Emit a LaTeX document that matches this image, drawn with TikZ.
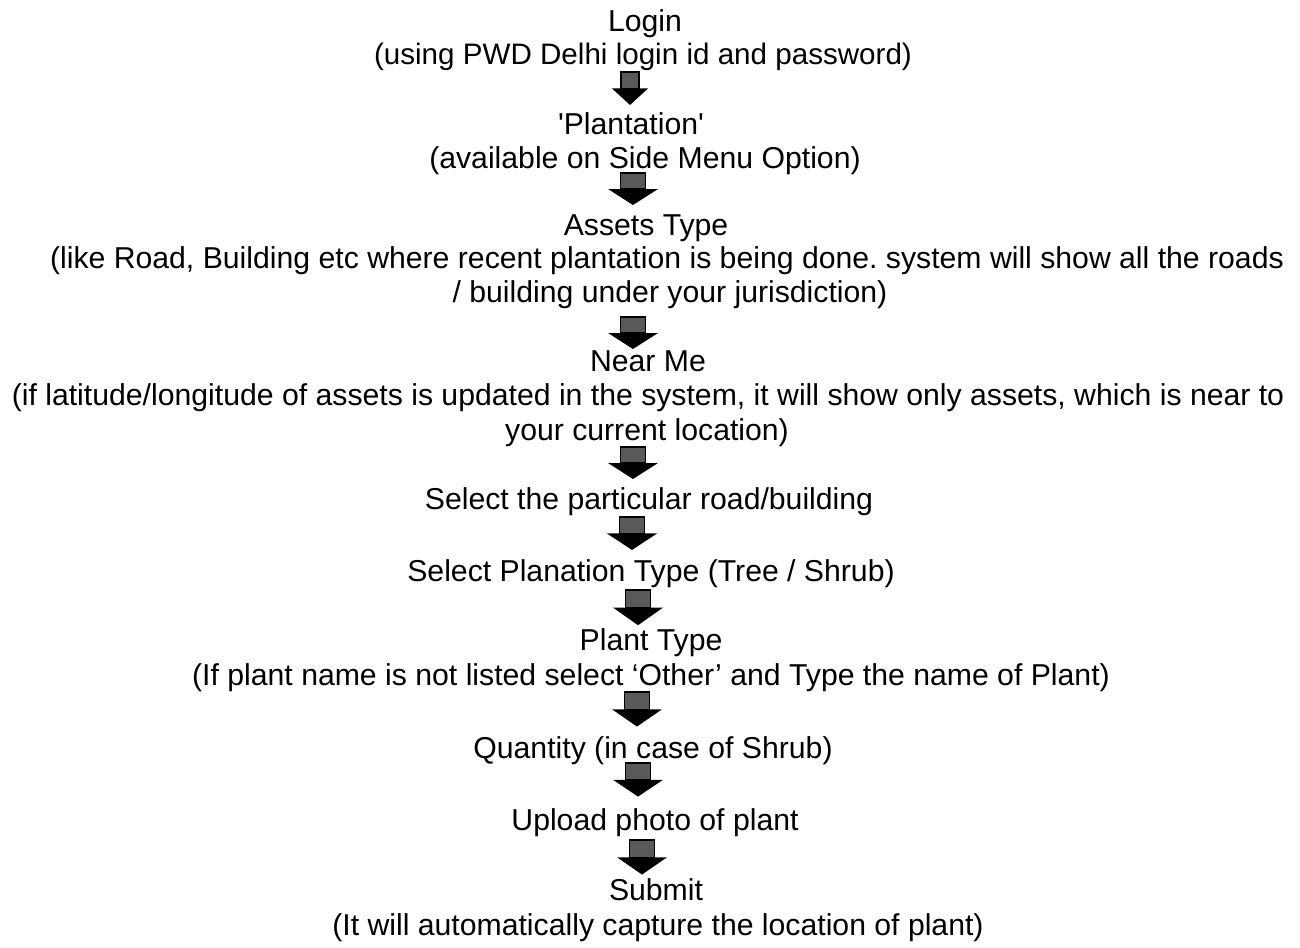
\documentclass[tikz,border=0pt]{standalone}
\usepackage{fontspec}
\setmainfont{Liberation Sans}
\begin{document}
\frenchspacing
\begin{tikzpicture}[x=1pt,y=-1pt,
  txt/.style={anchor=base,inner sep=0pt,font=\fontsize{30.2}{34}\selectfont},
  blockarrow/.pic={
    \fill[black!65,draw=black,line width=1.4pt] (-12.5,0) rectangle (12.5,16);
    \fill[black] (-25,16) -- (25,16) -- (0,32) -- cycle;
  }]
\useasboundingbox (0,0) rectangle (1300,947);
% texts
\node[txt] (login)  at (645,32)  {Login};
\node[txt,font=\fontsize{29.6}{34}\selectfont] (loginb) at (643,65)  {(using PWD Delhi login id and password)};
\node[txt] (plant)  at (631,135) {\textquotesingle Plantation\textquotesingle};
\node[txt] (plantb) at (645,168) {(available on Side Menu Option)};
\node[txt] (asset)  at (646,235) {Assets Type};
\node[txt] (assetb) at (667,268) {(like Road, Building etc where recent plantation is being done. system will show all the roads};
\node[txt] (assetc) at (670,302) {/ building under your jurisdiction)};
\node[txt] (near)   at (648,371) {Near Me};
\node[txt] (nearb)  at (648,405) {(if latitude/longitude of assets is updated in the system, it will show only assets, which is near to};
\node[txt] (nearc)  at (647,440) {your current location)};
\node[txt] (sel)    at (649,509) {Select the particular road/building};
\node[txt] (ptype)  at (651,581) {Select Planation Type (Tree / Shrub)};
\node[txt] (pl)     at (651,650) {Plant Type};
\node[txt] (plb)    at (651,685) {(If plant name is not listed select ‘Other’ and Type the name of Plant)};
\node[txt] (qty)    at (653,758) {Quantity (in case of Shrub)};
\node[txt] (upl)    at (655,830) {Upload photo of plant};
\node[txt] (sub)    at (656,900) {Submit};
\node[txt] (subb)   at (658,935) {(It will automatically capture the location of plant)};
% arrows
\pic[xscale=0.72,yscale=1.03] at (630,72) {blockarrow};
\pic at (633,173) {blockarrow};
\pic at (633,317) {blockarrow};
\pic at (633,447) {blockarrow};
\pic[yscale=1.03] at (632,517) {blockarrow};
\pic[yscale=1.1] at (638,590) {blockarrow};
\pic[yscale=1.08] at (637,692) {blockarrow};
\pic[yscale=1.05] at (638,763) {blockarrow};
\pic[yscale=1.08] at (642,840) {blockarrow};
\end{tikzpicture}
\end{document}
